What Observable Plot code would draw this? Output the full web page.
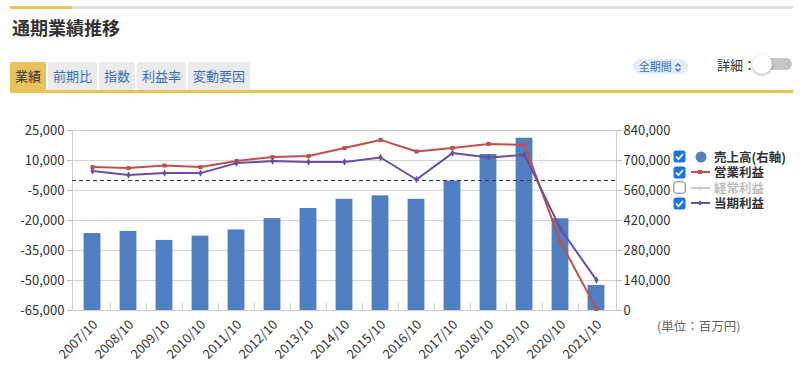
<!DOCTYPE html>
<html><head><meta charset="utf-8">
<script src="https://cdn.jsdelivr.net/npm/d3@7"></script>
<script src="https://cdn.jsdelivr.net/npm/@observablehq/plot@0.6"></script>
<style>
body{margin:0;width:800px;height:371px;position:relative;overflow:hidden;background:#fff;font-family:"Noto Sans CJK JP","Noto Sans",sans-serif;color:#333}
.abs{position:absolute}
#topbar{left:10px;top:6px;width:783px;height:3px;background:#e2e2e2}
#topgold{left:10px;top:6px;width:62px;height:3px;background:#e6c35c}
#title{left:12px;top:14px;font-size:18px;font-weight:bold;line-height:26px;color:#333}
#tabs{left:10px;top:62px;display:flex;gap:2px}
.tab{height:28px;line-height:28px;padding:0 5px;font-size:13px;background:#ebebeb;color:#3a6fc4;border-radius:2px 2px 0 0}
.tab.on{background:#e6c35c;color:#333}
#tabline{left:10px;top:90px;width:783px;height:3px;background:#e6c35c}
#pill{left:633px;top:59px;width:55px;height:15px;border-radius:8px;background:#e3ecf7;color:#3a6fc4;font-size:11px;line-height:15px;text-align:center}
#detail{left:717px;top:56px;font-size:13px;line-height:18px;color:#333}
#track{left:758px;top:58px;width:34px;height:12px;border-radius:6px;background:#c6c6c6}
#knob{left:752px;top:54px;width:20px;height:20px;border-radius:10px;background:#fff;box-shadow:0 1px 3px rgba(0,0,0,0.35)}
#chart{left:0;top:110px}
#legend{left:673px;top:149px;font-size:12.5px;font-weight:bold}
.row{display:flex;align-items:center;height:15.5px;white-space:nowrap}
.row svg{flex:none}
.row span{display:inline-block;height:14px;line-height:14px;overflow:visible}
#unit{left:657px;top:316px;font-size:12.5px;color:#666}
</style></head><body>
<div class="abs" id="topbar"></div><div class="abs" id="topgold"></div>
<div class="abs" id="title">通期業績推移</div>
<div class="abs" id="tabs"><div class="tab on">業績</div><div class="tab">前期比</div><div class="tab">指数</div><div class="tab">利益率</div><div class="tab">変動要因</div></div>
<div class="abs" id="tabline"></div>
<div class="abs" id="pill">全期間 <svg width="8" height="9" style="vertical-align:-1px"><path d="M1.5 3.5 L4 1 L6.5 3.5 M1.5 5.5 L4 8 L6.5 5.5" fill="none" stroke="#3a6fc4" stroke-width="1.3"/></svg></div>
<div class="abs" id="detail">詳細：</div>
<div class="abs" id="track"></div><div class="abs" id="knob"></div>
<div class="abs" id="chart"></div>
<div class="abs" id="legend"></div>
<div class="abs" id="unit">(単位：百万円)</div>
<script>
const years = ["2007/10","2008/10","2009/10","2010/10","2011/10","2012/10","2013/10","2014/10","2015/10","2016/10","2017/10","2018/10","2019/10","2020/10","2021/10"];
const sales = [359000,369000,327000,347000,376000,429000,476000,519000,535000,519000,604000,728000,804000,428000,117000];
const opProfit = [6700,6200,7500,6700,9800,11700,12200,16200,20300,14500,16300,18300,17800,-30800,-64200];
const netProfit = [4700,2700,3700,3700,8700,9700,9300,9300,11500,500,13700,11500,12800,-24200,-49800];
const leftTicks = [-65000,-50000,-35000,-20000,-5000,10000,25000];
const rightTicks = [0,140000,280000,420000,560000,700000,840000];
const seriesNames = ["売上高(右軸)","営業利益","経常利益","当期利益"];
const colors = {sales:"#4f7fc0", op:"#c0504d", net:"#6a4f9f", ord:"#c8c8c8"};

const L0 = -65000, L1 = 25000, R1 = 840000;
const toLeft = v => L0 + v * (L1 - L0) / R1;
const fromLeft = d => Math.round((d - L0) * R1 / (L1 - L0) / 1000) * 1000;
const fmt = v => v.toLocaleString("en-US");

const data = years.map((y, i) => ({year: y, sales: sales[i], op: opProfit[i], net: netProfit[i]}));

const W = 800, H = 261, mL = 72, mR = 184, mT = 20, mB = 61;
const bw = (W - mL - mR) / years.length;

const chart = Plot.plot({
  width: W, height: H,
  marginLeft: mL, marginRight: mR, marginTop: mT, marginBottom: mB,
  style: {fontFamily: '"Noto Sans CJK JP","Noto Sans",sans-serif', fontSize: "13px", color: "#333", background: "transparent"},
  x: {type: "band", domain: years, padding: 0, label: null},
  y: {domain: [L0, L1], label: null},
  marks: [
    Plot.ruleY(leftTicks, {stroke: "#d6d6d6"}),
    Plot.ruleX(years.slice(1), {x: d => d, y1: () => L0, y2: () => L0 + 3500, dx: -bw / 2, stroke: "#cfcfcf"}),
    Plot.frame({stroke: "#cfcfcf"}),
    Plot.barY(data, {x: "year", y1: () => L0, y2: d => toLeft(d.sales), fill: colors.sales, insetLeft: 9.6, insetRight: 9.6}),
    Plot.ruleY([0], {stroke: "#2b3566", strokeDasharray: "4,3"}),
    Plot.line(data, {x: "year", y: "op", stroke: colors.op, strokeWidth: 2}),
    Plot.dot(data, {x: "year", y: "op", symbol: "square", r: 2.3, fill: colors.op, stroke: "none"}),
    Plot.line(data, {x: "year", y: "net", stroke: colors.net, strokeWidth: 2}),
    Plot.dot(data, {x: "year", y: "net", symbol: "diamond", r: 2.2, fill: colors.net, stroke: "none"}),
    Plot.axisY(leftTicks, {anchor: "left", tickFormat: fmt, tickSize: 5, tickPadding: 3, stroke: "#bbb", fill: "#333", fontSize: 13, label: null}),
    Plot.axisY(rightTicks.map(toLeft), {anchor: "right", tickFormat: d => fmt(fromLeft(d)), tickSize: 5, tickPadding: 2, stroke: "#bbb", fill: "#333", fontSize: 13, label: null}),
    Plot.axisX({tickRotate: -45, tickSize: 0, tickPadding: 12, dx: 3, fill: "#333", fontSize: 13, label: null})
  ]
});
document.getElementById("chart").appendChild(chart);

// legend
const check = on => on
  ? '<svg width="13" height="13"><rect x="0.5" y="0.5" width="12" height="12" rx="2.5" fill="#1a73e8"/><path d="M3 6.6 L5.5 9.2 L10 4" fill="none" stroke="#fff" stroke-width="1.7"/></svg>'
  : '<svg width="13" height="13"><rect x="0.75" y="0.75" width="11.5" height="11.5" rx="2.5" fill="#fff" stroke="#777" stroke-width="1"/></svg>';
const lineIcon = (c, marker) => `<svg width="22" height="14" style="margin-left:3px"><line x1="2" y1="7" x2="21" y2="7" stroke="${c}" stroke-width="2"/>${marker === "sq" ? `<rect x="9" y="5" width="4" height="4" fill="${c}"/>` : marker === "tri" ? `<path d="M11 4.5 L13.5 8.5 L8.5 8.5Z" fill="${c}"/>` : `<path d="M11 4.5 L13.5 7 L11 9.5 L8.5 7Z" fill="${c}"/>`}</svg>`;
const circIcon = c => `<svg width="22" height="14" style="margin-left:3px"><circle cx="12" cy="7" r="5.5" fill="${c}"/></svg>`;
const legendItems = [
  {name: seriesNames[0], on: true, icon: circIcon(colors.sales), color: "#333"},
  {name: seriesNames[1], on: true, icon: lineIcon(colors.op, "sq"), color: "#333"},
  {name: seriesNames[2], on: false, icon: lineIcon(colors.ord, "tri"), color: "#bdbdbd"},
  {name: seriesNames[3], on: true, icon: lineIcon(colors.net, "dia"), color: "#333"}
];
document.getElementById("legend").innerHTML = legendItems.map(it =>
  `<div class="row">${check(it.on)}${it.icon}<span style="margin-left:3px;color:${it.color}">${it.name}</span></div>`).join("");
</script>
</body></html>
